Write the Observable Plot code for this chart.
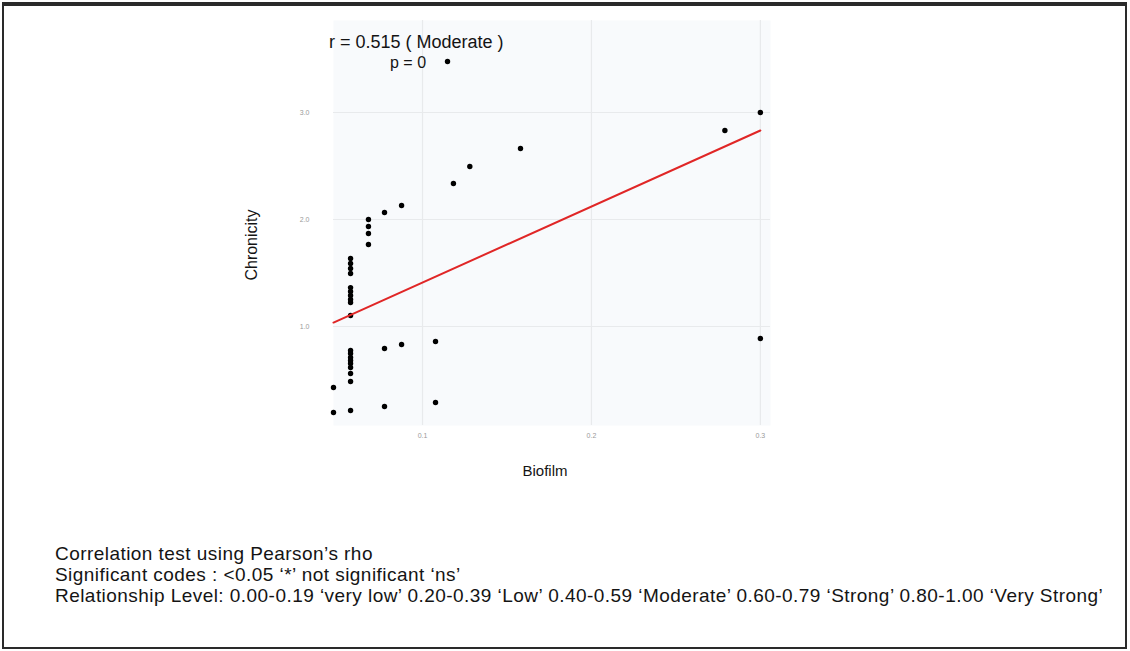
<!DOCTYPE html>
<html><head><meta charset="utf-8">
<script src="https://cdn.jsdelivr.net/npm/d3@7"></script>
<script src="https://cdn.jsdelivr.net/npm/@observablehq/plot@0.6"></script>
<style>
html,body{margin:0;padding:0;background:#fff;}
#wrap{position:relative;width:1130px;height:651px;overflow:hidden;font-family:"Liberation Sans",Arial,sans-serif;}
#chart{position:absolute;left:0;top:0;}
#border{position:absolute;left:2px;top:2px;width:1125px;height:647px;border:2px solid #2a2a2a;border-top-width:4px;box-sizing:border-box;pointer-events:none;}
.t{position:absolute;white-space:nowrap;color:#141414;line-height:1;}
.cap{font-size:19px;letter-spacing:0.45px;}
</style></head><body>
<div id="wrap">
  <div id="chart"></div>
  <div class="t" id="rtxt" style="left:329px;top:33px;font-size:18px;">r = 0.515 ( Moderate )</div>
  <div class="t" id="ptxt" style="left:390px;top:55px;font-size:16px;">p = 0</div>
  <div class="t" id="ylab" style="left:252px;top:245px;font-size:16px;transform:translate(-50%,-50%) rotate(-90deg);">Chronicity</div>
  <div class="t" id="xlab" style="left:545px;top:470px;font-size:15px;transform:translate(-50%,-50%);">Biofilm</div>
  <div class="t cap" id="cap1" style="left:55px;top:544px;">Correlation test using Pearson’s rho</div>
  <div class="t cap" id="cap2" style="left:55px;top:565px;">Significant codes : &lt;0.05 ‘*’ not significant ‘ns’</div>
  <div class="t cap" id="cap3" style="left:55px;top:586px;">Relationship Level: 0.00-0.19 ‘very low’ 0.20-0.39 ‘Low’ 0.40-0.59 ‘Moderate’ 0.60-0.79 ‘Strong’ 0.80-1.00 ‘Very Strong’</div>
  <div id="border"></div>
</div>
<script>
// Data
const biofilm = [
  0.0473, 0.0473,
  0.0574, 0.0574, 0.0574, 0.0574, 0.0574, 0.0574, 0.0574, 0.0574, 0.0574, 0.0574,
  0.0574, 0.0574, 0.0574, 0.0574, 0.0574, 0.0574, 0.0574, 0.0574, 0.0574,
  0.068, 0.068, 0.068, 0.068,
  0.0775, 0.0775, 0.0775,
  0.0876, 0.0876,
  0.1077, 0.1077,
  0.1148, 0.1183, 0.128, 0.158, 0.279,
  0.300, 0.300
];
const chronicity = [
  0.43, 0.196,
  1.636, 1.589, 1.542, 1.495, 1.364, 1.327, 1.29, 1.252, 1.224, 1.103,
  0.776, 0.748, 0.71, 0.682, 0.654, 0.617, 0.561, 0.486, 0.215,
  2.0, 1.935, 1.869, 1.766,
  2.065, 0.794, 0.252,
  2.131, 0.832,
  0.86, 0.29,
  3.477, 2.336, 2.495, 2.664, 2.832,
  3.0, 0.888
];
// Fitted regression line ends
const fitBiofilm = [0.0473, 0.300];
const fitChronicity = [1.037, 2.832];
const xTicks = [0.1, 0.2, 0.3];
const yTicks = [1, 2, 3];

const pts = biofilm.map((b, i) => ({biofilm: b, chronicity: chronicity[i]}));
const fit = fitBiofilm.map((b, i) => ({biofilm: b, chronicity: fitChronicity[i]}));

const chart = Plot.plot({
  width: 1130,
  height: 651,
  marginLeft: 333,
  marginRight: 360,
  marginTop: 20,
  marginBottom: 226,
  style: {fontFamily: "Liberation Sans, Arial, sans-serif", background: "transparent"},
  x: {domain: [0.0473, 0.306]},
  y: {domain: [0.075, 3.86]},
  marks: [
    Plot.frame({fill: "#f8fafc", stroke: null}),
    Plot.gridX(xTicks, {stroke: "#e8eaec", strokeOpacity: 1, strokeWidth: 1.2}),
    Plot.gridY(yTicks, {stroke: "#e8eaec", strokeOpacity: 1, strokeWidth: 1.2}),
    Plot.axisX(xTicks, {tickSize: 0, tickPadding: 8, fontSize: 7, fill: "#9a9a9a", label: null, tickFormat: d3.format(".1f")}),
    Plot.axisY(yTicks, {tickSize: 0, tickPadding: 24, fontSize: 7, fill: "#9a9a9a", label: null}),
    Plot.dot(pts, {x: "biofilm", y: "chronicity", r: 2.7, fill: "#000", stroke: null}),
    Plot.line(fit, {x: "biofilm", y: "chronicity", stroke: "#e02626", strokeWidth: 2})
  ]
});
document.getElementById("chart").appendChild(chart);
</script>
</body></html>
